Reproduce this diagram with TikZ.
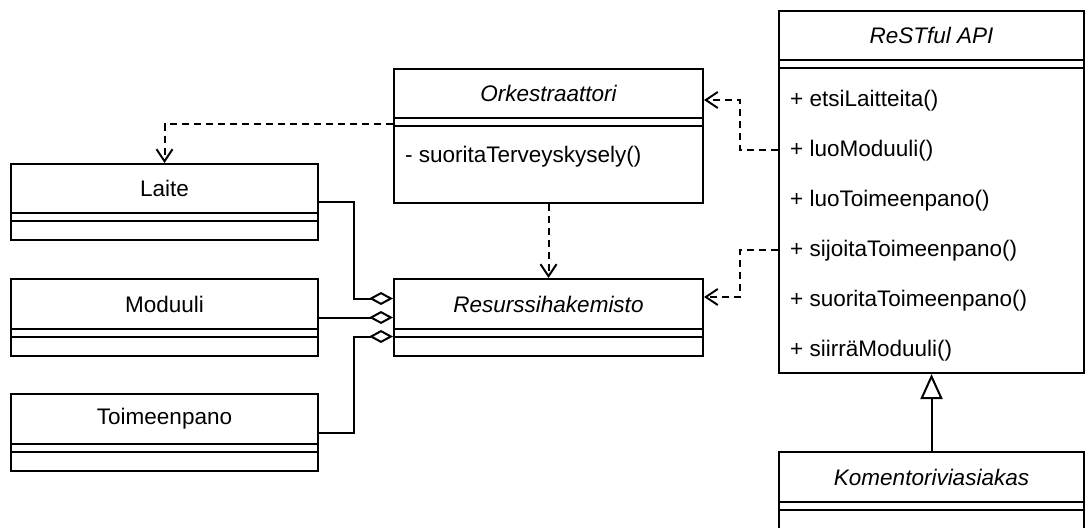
\documentclass[tikz,border=0pt]{standalone}
\usepackage{fontspec}
\setmainfont{Liberation Sans}
\usetikzlibrary{arrows.meta,calc,fit}

\tikzset{
  lw/.style={line width=2pt},
  classbox/.style={draw, lw, inner sep=0pt, fill=white},
  title/.style={font=\fontsize{22.5}{27}\selectfont, inner sep=0pt},
  member/.style={font=\fontsize{22.5}{27}\selectfont, inner sep=0pt, anchor=west},
  depend/.style={lw, dash pattern=on 7pt off 5pt, -{Straight Barb[length=12pt,width=16pt,line width=2pt]}},
  aggreg/.style={lw, -{Diamond[open,length=24pt,width=13pt,line width=2pt,fill=white]}},
  inherit/.style={lw, -{Triangle[open,length=25pt,width=22pt,line width=2pt,fill=white]}},
}

% #1 name, #2 left, #3 top, #4 right, #5 bottom, #6 header bottom, #7 title
\newcommand\umlclass[7]{%
  \node[classbox, fit={(#2,#3) (#4,#5)}] (#1) {};
  \node[title] (#1-name) at ($(#2,#3)!0.5!(#4,#6)$) {#7};
  \draw[lw] (#2,#6) -- (#4,#6);
  \draw[lw] (#2,#6+8) -- (#4,#6+8);
}

\begin{document}
\begin{tikzpicture}[x=1pt,y=-1pt]
\useasboundingbox (0,0) rectangle (1086,527);
\clip (0,0) rectangle (1086,527);

% classes
\umlclass{laite}{11}{164}{318}{240}{213}{Laite}
\umlclass{moduuli}{11}{279}{318}{356}{329}{Moduuli}
\umlclass{toim}{11}{394}{318}{471}{444}{Toimeenpano}
\umlclass{ork}{394}{69}{703}{203}{118}{\itshape Orkestraattori}
\umlclass{res}{394}{279}{703}{356}{329}{\itshape Resurssihakemisto}
\umlclass{api}{779}{11}{1084}{373}{60}{\itshape ReSTful API}
\umlclass{kom}{779}{452}{1084}{532}{502}{\itshape Komentoriviasiakas}

% members
\node[member] (ork-m1) at (405,157) {- suoritaTerveyskysely()};
\node[member] (api-m1) at (790,101) {+ etsiLaitteita()};
\node[member] (api-m2) at (790,151) {+ luoModuuli()};
\node[member] (api-m3) at (790,201) {+ luoToimeenpano()};
\node[member] (api-m4) at (790,251) {+ sijoitaToimeenpano()};
\node[member] (api-m5) at (790,301) {+ suoritaToimeenpano()};
\node[member] (api-m6) at (790,351) {+ siirräModuuli()};

% aggregations into the resource directory
\draw[aggreg] (laite.east) -| ($(res.west)+(-39,-19)$) -- ($(res.west)+(0,-19)$);
\draw[aggreg] (moduuli.east) -- (res.west);
\draw[aggreg] (toim.east) -| ($(res.west)+(-39,19)$) -- ($(res.west)+(0,19)$);

% dependencies
\draw[depend] ($(ork.north west)+(0,56)$) -| (laite.north);
\draw[depend] (ork.south) -- (res.north);
\draw[depend] ($(api.north west)+(0,140)$) -- ++(-38,0) |- ($(ork.north east)+(0,32)$);
\draw[depend] ($(api.north west)+(0,240)$) -- ++(-38,0) |- ($(res.north east)+(0,19)$);

% generalisation
\draw[inherit] (kom.north) -- (api.south);
\end{tikzpicture}
\end{document}
